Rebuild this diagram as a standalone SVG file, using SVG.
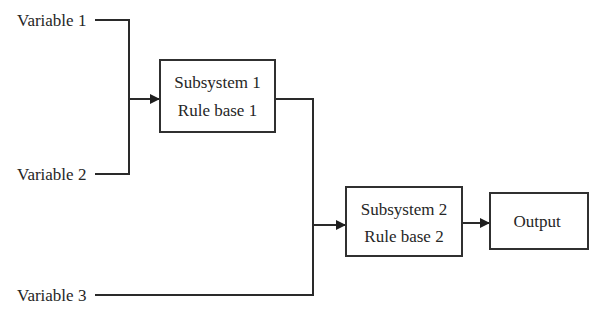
<svg xmlns="http://www.w3.org/2000/svg" width="591" height="326" viewBox="0 0 591 326">
  <style>
    .lbl { font-family: "Liberation Serif", "Times New Roman", serif; font-size: 17px; fill: #262626; }
    .box { fill: #ffffff; stroke: #303030; stroke-width: 2; }
    .wire { fill: none; stroke: #2a2a2a; stroke-width: 2; }
  </style>
  <defs>
    <marker id="arrow" viewBox="0 0 10 10" refX="10" refY="5" markerWidth="5" markerHeight="5" orient="auto" markerUnits="strokeWidth">
      <path d="M0,0 L10,5 L0,10 z" fill="#1e1e1e"/>
    </marker>
  </defs>
  <rect width="591" height="326" fill="#ffffff"/>

  <g id="connectors">
    <path class="wire" d="M95,20 H129 V174 H95"/>
    <path class="wire" d="M129,99 H160" marker-end="url(#arrow)"/>
    <path class="wire" d="M275,99 H313 V295 H95"/>
    <path class="wire" d="M313,225 H346" marker-end="url(#arrow)"/>
    <path class="wire" d="M462,223 H490" marker-end="url(#arrow)"/>
  </g>

  <g id="var1"><text class="lbl" x="17" y="26">Variable 1</text></g>
  <g id="var2"><text class="lbl" x="17" y="180">Variable 2</text></g>
  <g id="var3"><text class="lbl" x="17" y="301">Variable 3</text></g>

  <g id="subsystem1">
    <rect class="box" x="160" y="60" width="115" height="72"/>
    <text class="lbl" x="217.5" y="88" text-anchor="middle">Subsystem 1</text>
    <text class="lbl" x="217.5" y="116" text-anchor="middle">Rule base 1</text>
  </g>

  <g id="subsystem2">
    <rect class="box" x="346" y="187" width="116" height="69"/>
    <text class="lbl" x="404" y="215" text-anchor="middle">Subsystem 2</text>
    <text class="lbl" x="404" y="242" text-anchor="middle">Rule base 2</text>
  </g>

  <g id="output">
    <rect class="box" x="490" y="193" width="98" height="56"/>
    <text class="lbl" x="537" y="227" text-anchor="middle">Output</text>
  </g>
</svg>
